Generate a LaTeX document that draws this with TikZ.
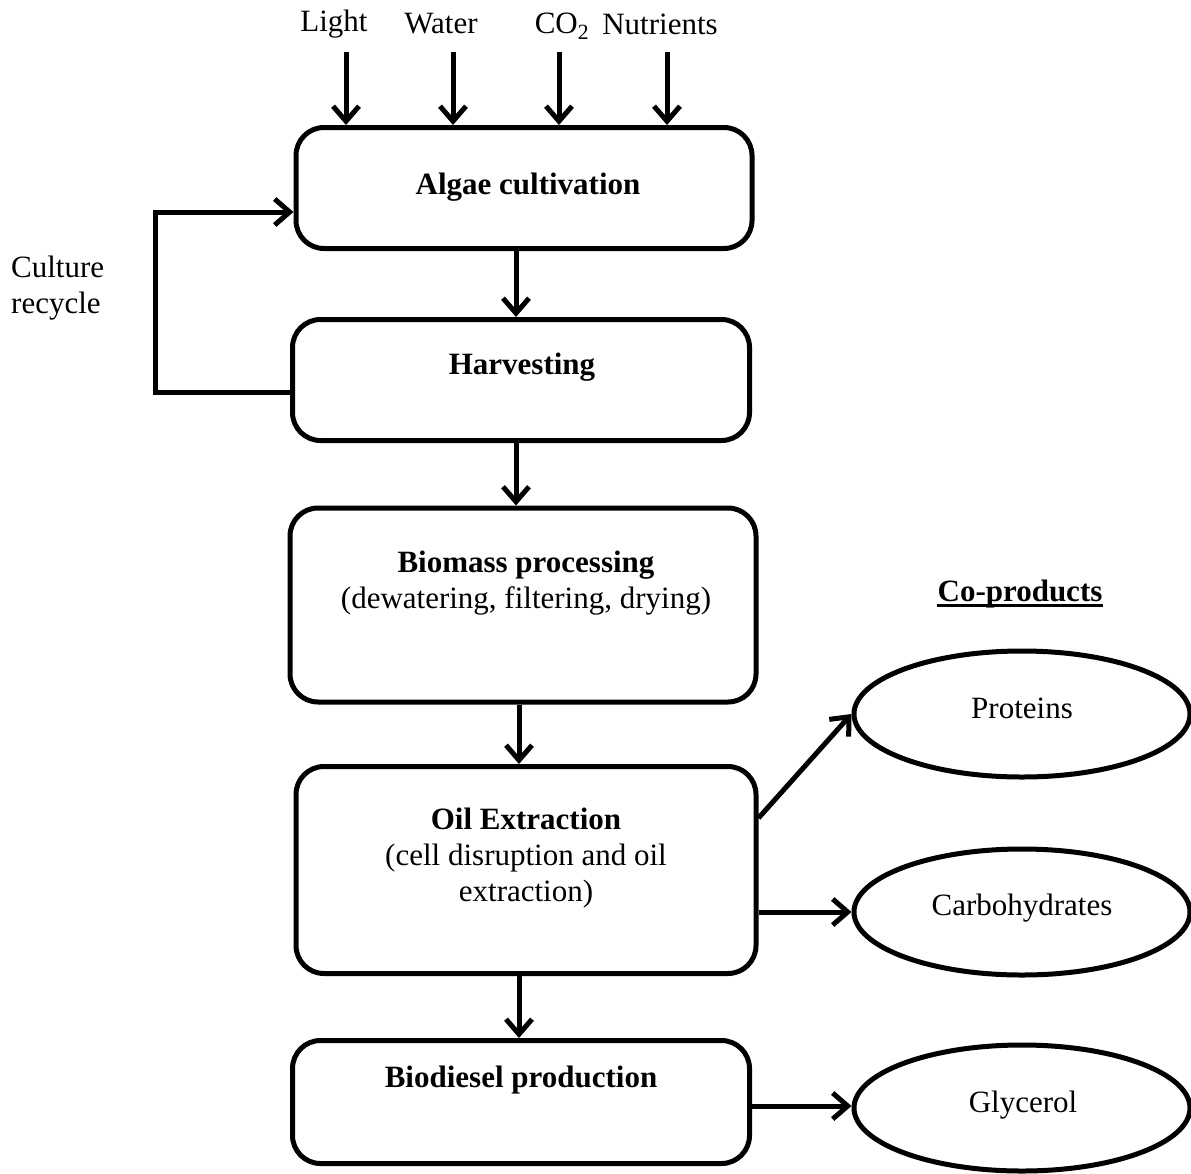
\documentclass[tikz,border=0pt]{standalone}
\usepackage{fontspec}
\setmainfont{Liberation Serif}
\usetikzlibrary{arrows.meta,shapes.geometric}
\begin{document}
\begin{tikzpicture}[x=1pt,y=-1pt,
  txt/.style={font=\fontsize{31}{36}\selectfont, align=center, inner sep=0pt},
  procbox/.style={draw, line width=5pt, rounded corners=28pt, inner sep=0pt},
  prod/.style={draw, ellipse, line width=5pt, inner sep=0pt, minimum width=336pt, minimum height=126pt, font=\fontsize{31}{36}\selectfont},
  arr/.style={line width=5pt, -{Straight Barb[length=15pt,width=26pt]}}]
\useasboundingbox (0,0) rectangle (1191,1173);
% boxes
\node[procbox, minimum width=456pt, minimum height=121pt] (A) at (524,188) {};
\node[procbox, minimum width=457pt, minimum height=121pt] (H) at (521,380) {};
\node[procbox, minimum width=466pt, minimum height=194pt] (B) at (523,605) {};
\node[procbox, minimum width=460pt, minimum height=207pt] (O) at (526,870) {};
\node[procbox, minimum width=457pt, minimum height=123pt] (D) at (521,1102) {};
% box texts
\node[txt] (At) at (528,187) {\textbf{Algae cultivation}};
\node[txt] (Ht) at (522,367) {\textbf{Harvesting}};
\node[txt] (Bt) at (526,583) {\textbf{Biomass processing}\\(dewatering, filtering, drying)};
\node[txt] (Ot) at (526,858) {\textbf{Oil Extraction}\\(cell disruption and oil\\extraction)};
\node[txt] (Dt) at (521,1080) {\textbf{Biodiesel production}};
% ellipses
\node[prod] (P) at (1022,714) {};
\node[prod] (C) at (1022,912) {};
\node[prod] (G) at (1022,1108) {};
\node[txt] (Pt) at (1022,708) {Proteins};
\node[txt] (Ct) at (1022,908) {Carbohydrates};
\node[txt] (Gt) at (1023,1105) {Glycerol};
\node[txt] (CP) at (1020,594) {\textbf{Co-products}};
\draw[line width=2.6pt] ([yshift=-4pt]CP.base west) -- ([yshift=-4pt]CP.base east);
% inputs
\node[txt] (L1) at (334,24) {Light};
\node[txt] (L2) at (441,24) {Water};
\node[txt] (L3) at (562,26) {CO\textsubscript{2}};
\node[txt] (L4) at (660,24) {Nutrients};
\coordinate (s1) at (346,52);
\coordinate (s2) at (453,52);
\coordinate (s3) at (559,52);
\coordinate (s4) at (667,52);
\foreach \s in {s1,s2,s3,s4} \draw[arr] (\s) -- (\s |- A.north);
% recycle
\node[txt, align=left, anchor=west] (R) at (11,288) {Culture\\recycle};
\draw[arr, line join=miter] ([yshift=-12pt]H.west) -- ++(-134.5,0) |- ([yshift=-24pt]A.west);
% vertical flow
\coordinate (x1) at (516,0);
\coordinate (x2) at (519,0);
\draw[arr] (A.south -| x1) -- (H.north -| x1);
\draw[arr] (H.south -| x1) -- (B.north -| x1);
\draw[arr] (B.south -| x2) -- (O.north -| x2);
\draw[arr] (O.south -| x2) -- (D.north -| x2);
% co-products
\draw[arr] ([yshift=52pt]O.east) -- (P.west);
\draw[arr] ([yshift=-42pt]O.east) -- (C.west);
\draw[arr] ([yshift=-4pt]D.east) -- ([yshift=-4pt]D.east -| G.west);
\end{tikzpicture}
\end{document}
